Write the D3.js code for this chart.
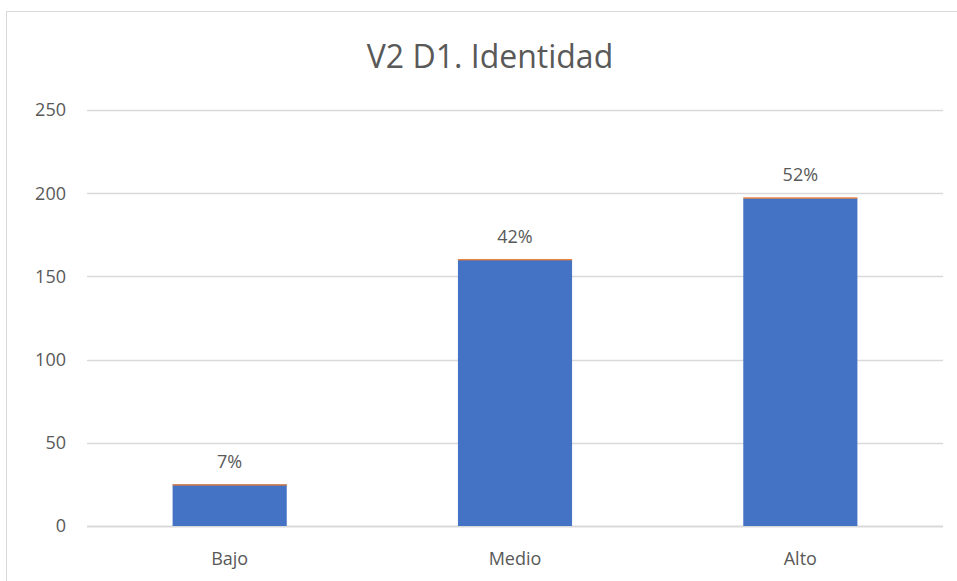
<!DOCTYPE html>
<html lang="es">
<head>
<meta charset="UTF-8">
<title>V2 D1. Identidad</title>
<script src="https://cdn.jsdelivr.net/npm/d3@7"></script>
<style>
  body { margin: 0; background: #fff; }
  text { font-family: "Open Sans", "Liberation Sans", sans-serif; fill: #595959; }
</style>
</head>
<body>
<script>
    // data
    const categories = ["Bajo", "Medio", "Alto"];
    const counts = [25, 160, 197];
    const shares = [0.07, 0.42, 0.52];
    const yTicks = [0, 50, 100, 150, 200, 250];

    const width = 957, height = 581;
    const margin = { top: 110, right: 14, bottom: 55, left: 87 };

    const svg = d3.select("body").append("svg")
        .attr("width", width)
        .attr("height", height);

    // outer chart frame
    svg.append("rect")
        .attr("x", 6.5).attr("y", 11.5)
        .attr("width", width + 10).attr("height", height + 10)
        .attr("fill", "none")
        .attr("stroke", "#d9d9d9");

    const x = d3.scaleBand()
        .domain(categories)
        .range([margin.left, width - margin.right])
        .paddingInner(0.6)
        .paddingOuter(0.3);

    const y = d3.scaleLinear()
        .domain([0, 250])
        .range([526, 110]);

    // gridlines
    svg.append("g")
        .selectAll("line")
        .data(yTicks)
        .join("line")
        .attr("x1", margin.left)
        .attr("x2", width - margin.right)
        .attr("y1", d => Math.round(y(d)) + 0.5)
        .attr("y2", d => Math.round(y(d)) + 0.5)
        .attr("stroke", "#d9d9d9")
        .attr("stroke-width", d => d === 0 ? 2 : 1.3);

    // y tick labels
    svg.append("g")
        .selectAll("text")
        .data(yTicks)
        .join("text")
        .attr("x", 66)
        .attr("y", d => y(d))
        .attr("dy", "0.35em")
        .attr("text-anchor", "end")
        .attr("font-size", 18)
        .text(d => d);

    // blue bars (counts)
    svg.append("g")
        .selectAll("rect")
        .data(counts)
        .join("rect")
        .attr("x", (d, i) => x(categories[i]))
        .attr("width", x.bandwidth())
        .attr("y", d => y(d))
        .attr("height", d => y(0) - y(d))
        .attr("fill", "#4472c4");

    // orange stacked series (shares) - tiny, keep at least a hairline
    svg.append("g")
        .selectAll("rect")
        .data(shares)
        .join("rect")
        .attr("x", (d, i) => x(categories[i]))
        .attr("width", x.bandwidth())
        .attr("y", (d, i) => y(counts[i] + d))
        .attr("height", d => Math.max(1.3, y(0) - y(d)))
        .attr("fill", "#ed7d31");

    // percentage labels
    svg.append("g")
        .selectAll("text")
        .data(shares)
        .join("text")
        .attr("x", (d, i) => x(categories[i]) + x.bandwidth() / 2)
        .attr("y", (d, i) => y(counts[i] + d) - 16)
        .attr("text-anchor", "middle")
        .attr("font-size", 18)
        .text(d => Math.round(d * 100) + "%");

    // category labels
    svg.append("g")
        .selectAll("text")
        .data(categories)
        .join("text")
        .attr("x", d => x(d) + x.bandwidth() / 2)
        .attr("y", 565)
        .attr("text-anchor", "middle")
        .attr("font-size", 18)
        .text(d => d);

    // title
    svg.append("text")
        .attr("x", 490)
        .attr("y", 68)
        .attr("text-anchor", "middle")
        .attr("font-size", 32)
        .text("V2 D1. Identidad");
</script>
</body>
</html>
